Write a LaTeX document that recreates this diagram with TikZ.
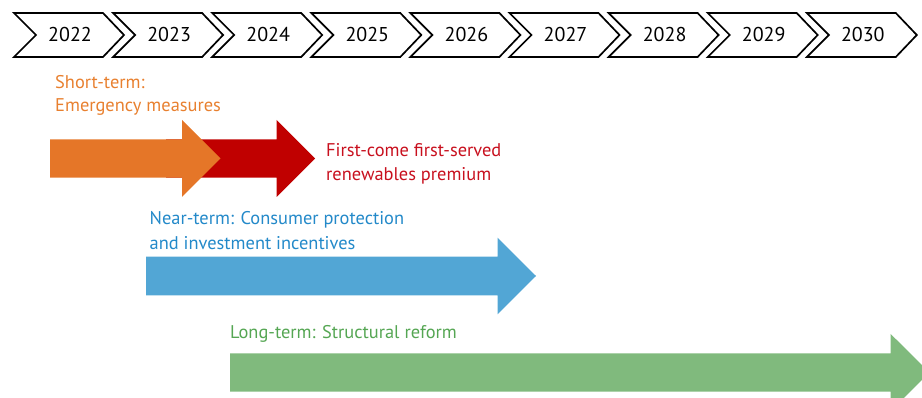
\documentclass[tikz,border=0pt]{standalone}
\usepackage{fontspec}
\setmainfont{PT Sans}
\definecolor{arrOrange}{HTML}{E57628}
\definecolor{arrRed}{HTML}{C00000}
\definecolor{arrBlue}{HTML}{52A6D5}
\definecolor{arrGreen}{HTML}{80BA7D}
\definecolor{txtOrange}{HTML}{E8802F}
\definecolor{txtRed}{HTML}{C8101E}
\definecolor{txtBlue}{HTML}{2389C9}
\definecolor{txtGreen}{HTML}{55A653}
\tikzset{
  chev/.style={draw=black, line width=1.7pt, fill=white, line join=miter},
  yearlbl/.style={font=\fontsize{20}{20}\selectfont, inner sep=0pt, anchor=base},
  lbl/.style={font=\fontsize{18.4}{18.4}\selectfont, inner sep=0pt, anchor=base west},
}
\begin{document}
\begin{tikzpicture}[x=1pt, y=-1pt]
\useasboundingbox (0,0) rectangle (922,398);
\clip (0,0) rectangle (922,398);
% timeline chevrons
\foreach \yr [count=\i from 0] in {2022,2023,2024,2025,2026,2027,2028,2029,2030} {
  \pgfmathsetmacro{\xo}{14+99.1*\i}
  \draw[chev] (\xo,13) -- ++(89,0) -- ++(21,22) -- ++(-21,22) -- ++(-89,0) -- ++(22,-22) -- cycle;
  \node[yearlbl] (y\yr) at (\xo+56,42) {\yr};
}
% red arrow (behind the orange one)
\fill[arrRed] (166,139.3) -- (276.5,139.3) -- (276.5,120) -- (315,158.5) -- (276.5,197) -- (276.5,177.7) -- (166,177.7) -- cycle;
% orange arrow
\fill[arrOrange] (50,139.3) -- (182,139.3) -- (182,120) -- (220.5,158.5) -- (182,197) -- (182,177.7) -- (50,177.7) -- cycle;
% blue arrow
\fill[arrBlue] (146,256.7) -- (497.5,256.7) -- (497.5,237.7) -- (536,276) -- (497.5,314.3) -- (497.5,295.3) -- (146,295.3) -- cycle;
% green arrow
\fill[arrGreen] (230,353.3) -- (890.7,353.3) -- (890.7,334) -- (929.5,372.5) -- (890.7,411) -- (890.7,391.7) -- (230,391.7) -- cycle;
% labels
\node[lbl, text=txtOrange] (st1) at (55,88.3) {Short-term:};
\node[lbl, text=txtOrange] (st2) at (55,112) {Emergency measures};
\node[lbl, text=txtRed] (fc1) at (326,156.7) {First-come first-served};
\node[lbl, text=txtRed] (fc2) at (326,180.7) {renewables premium};
\node[lbl, text=txtBlue] (nt1) at (149.5,224.3) {Near-term: Consumer protection};
\node[lbl, text=txtBlue] (nt2) at (149.5,250) {and investment incentives};
\node[lbl, text=txtGreen] (lt1) at (230,338) {Long-term: Structural reform};
\end{tikzpicture}
\end{document}
